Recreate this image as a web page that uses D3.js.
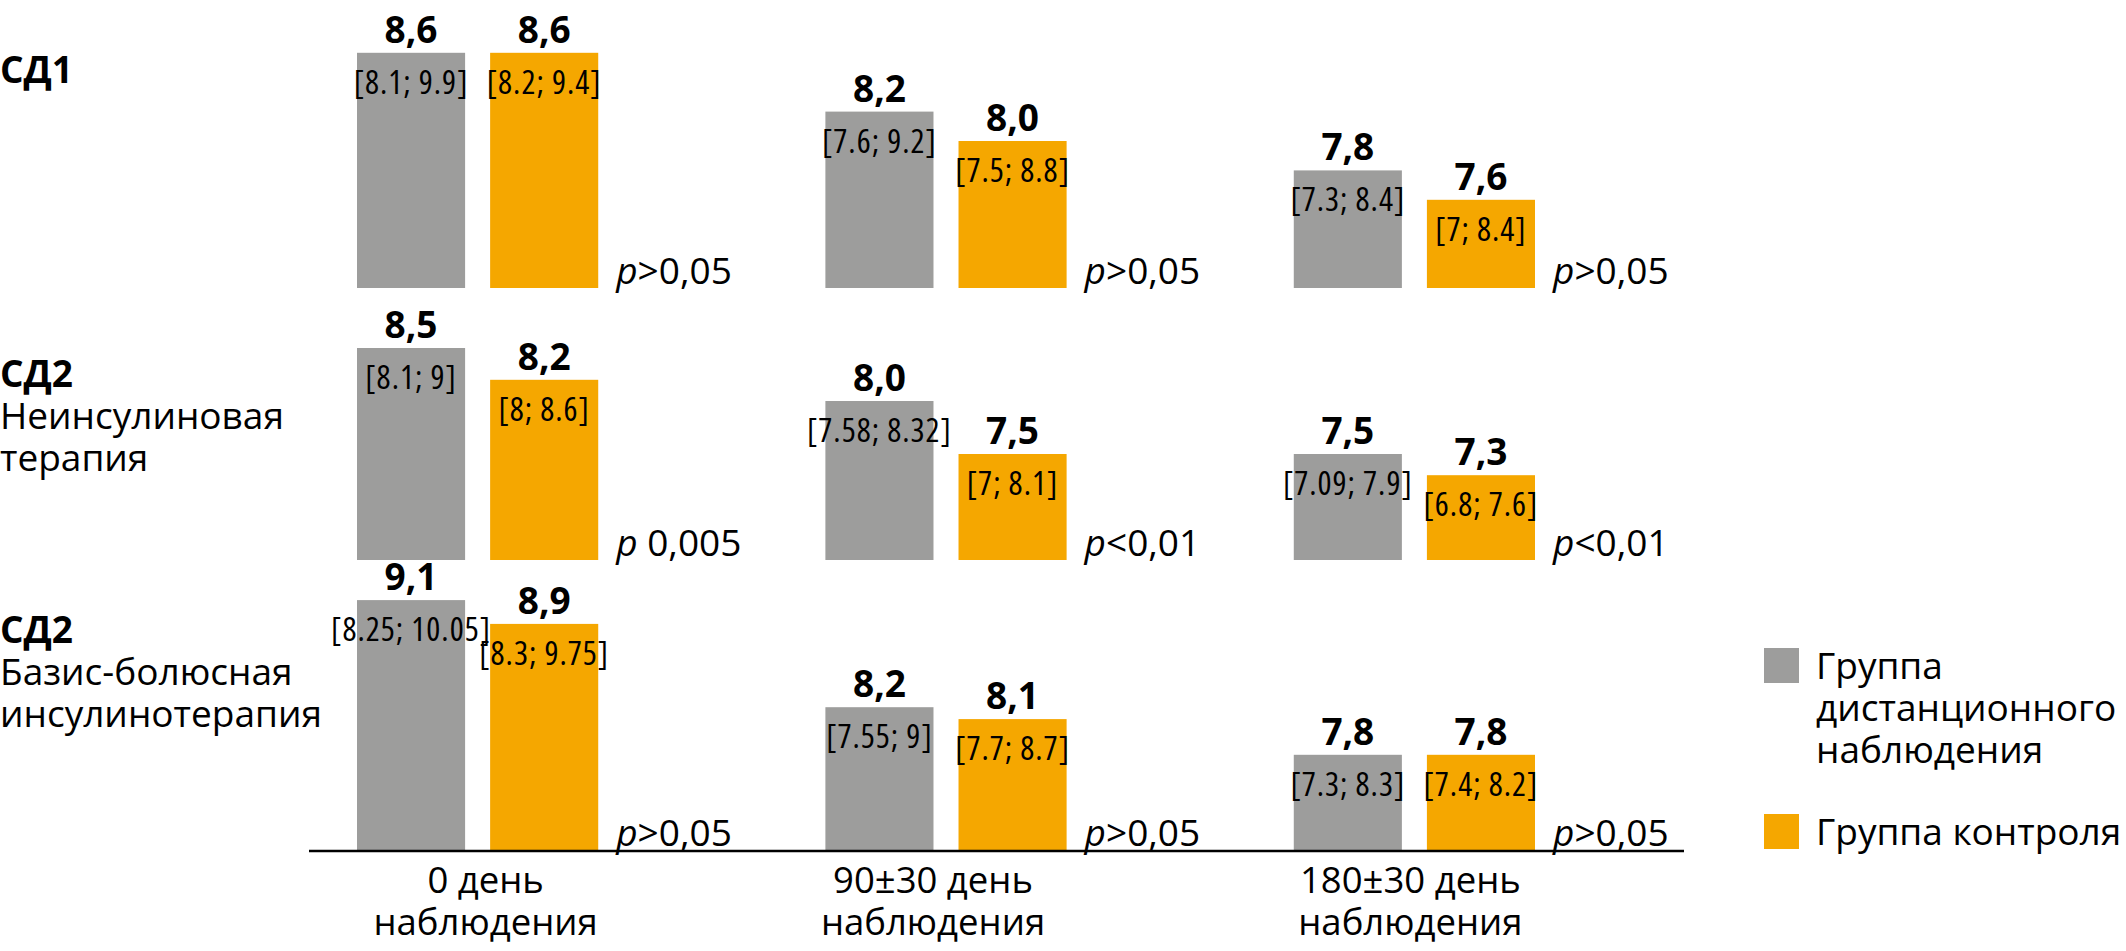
<!DOCTYPE html>
<html>
<head>
<meta charset="utf-8">
<script src="https://cdn.jsdelivr.net/npm/d3@7"></script>
<style>
  body { margin: 0; background: #fff; }
  svg { display: block; }
  .val { font-family: "Open Sans", sans-serif; font-weight: 700; font-size: 37px; }
  .iqr { font-family: "Open Sans", sans-serif; font-stretch: condensed; font-size: 33px; letter-spacing: 1px; }
  .pval { font-family: "Open Sans", sans-serif; font-size: 37px; }
  .rowlab { font-family: "Open Sans", sans-serif; font-size: 37px; }
  .axlab { font-family: "Open Sans", sans-serif; font-size: 36.5px; }
  .leg { font-family: "Open Sans", sans-serif; font-size: 37px; }
</style>
</head>
<body>
<svg id="chart"></svg>
<script>
// --- data ---
const days = ["0", "90±30", "180±30"];
const dayLabels = [["0 день", "наблюдения"], ["90±30 день", "наблюдения"], ["180±30 день", "наблюдения"]];
const groups = ["remote", "control"];
const groupNames = [["Группа", "дистанционного", "наблюдения"], ["Группа контроля"]];
const groupColors = ["#9d9d9c", "#f5a700"];

const rowTitles = ["СД1", "СД2", "СД2"];
const rowSubtitles = [[], ["Неинсулиновая", "терапия"], ["Базис-болюсная", "инсулинотерапия"]];

const remoteMedian = [[8.6, 8.2, 7.8], [8.5, 8.0, 7.5], [9.1, 8.2, 7.8]];
const controlMedian = [[8.6, 8.0, 7.6], [8.2, 7.5, 7.3], [8.9, 8.1, 7.8]];
const remoteIQR = [
  ["[8.1; 9.9]", "[7.6; 9.2]", "[7.3; 8.4]"],
  ["[8.1; 9]", "[7.58; 8.32]", "[7.09; 7.9]"],
  ["[8.25; 10.05]", "[7.55; 9]", "[7.3; 8.3]"]
];
const controlIQR = [
  ["[8.2; 9.4]", "[7.5; 8.8]", "[7; 8.4]"],
  ["[8; 8.6]", "[7; 8.1]", "[6.8; 7.6]"],
  ["[8.3; 9.75]", "[7.7; 8.7]", "[7.4; 8.2]"]
];
const pValues = [
  [">0,05", ">0,05", ">0,05"],
  [" 0,005", "<0,01", "<0,01"],
  [">0,05", ">0,05", ">0,05"]
];
// each panel has its own value axis (not starting at zero)
const rowDomains = [[7, 9], [6.5, 9], [7, 9.5]];

// --- layout ---
const W = 2126, H = 951;
const rowBase = [288, 560, 850];
const rowPx = [147, 106, 119]; // px per unit
const dayLabelDx = [8, -13, -4];

const svg = d3.select("#chart").attr("width", W).attr("height", H);

const x = d3.scaleBand().domain(days).range([357, 1535]).paddingInner(0.485).paddingOuter(0);
const xs = d3.scaleBand().domain(groups).range([0, x.bandwidth()]).paddingInner(0.188);
const fmt = v => d3.format(".1f")(v).replace(".", ",");

rowTitles.forEach((title, r) => {
  const dom = rowDomains[r];
  const y = d3.scaleLinear().domain(dom)
    .range([rowBase[r], rowBase[r] - rowPx[r] * (dom[1] - dom[0])]);

  const rows = days.map((d, i) => [
    { day: d, g: "remote", v: remoteMedian[r][i], iqr: remoteIQR[r][i] },
    { day: d, g: "control", v: controlMedian[r][i], iqr: controlIQR[r][i] }
  ]).flat();

  const g = svg.append("g");

  g.selectAll("rect.bar").data(rows).join("rect")
    .attr("class", "bar")
    .attr("x", d => x(d.day) + xs(d.g))
    .attr("width", xs.bandwidth())
    .attr("y", d => y(d.v))
    .attr("height", d => y(dom[0]) - y(d.v))
    .attr("fill", d => groupColors[groups.indexOf(d.g)]);

  g.selectAll("text.val").data(rows).join("text")
    .attr("class", "val")
    .attr("x", d => x(d.day) + xs(d.g) + xs.bandwidth() / 2)
    .attr("y", d => y(d.v) - 10)
    .attr("text-anchor", "middle")
    .text(d => fmt(d.v));

  g.selectAll("text.iqr").data(rows).join("text")
    .attr("class", "iqr")
    .attr("x", d => x(d.day) + xs(d.g) + xs.bandwidth() / 2)
    .attr("y", d => y(d.v) + 41)
    .attr("text-anchor", "middle")
    .text(d => d.iqr);

  const p = g.selectAll("text.pval").data(days).join("text")
    .attr("class", "pval")
    .attr("x", d => x(d) + x.bandwidth() + 18)
    .attr("y", rowBase[r] - 4);
  p.append("tspan").attr("font-style", "italic").text("p");
  p.append("tspan").text((d, i) => pValues[r][i]);

  // row titles
  const lab = g.append("text").attr("class", "rowlab").attr("x", 0);
  const titleY = r === 0 ? 83 : rowBase[r] - (r === 1 ? 173 : 207);
  lab.append("tspan").attr("x", 0).attr("y", titleY).attr("font-weight", 700).text(title);
  rowSubtitles[r].forEach((s, k) => {
    lab.append("tspan").attr("x", 0).attr("y", titleY + 42 * (k + 1)).text(s);
  });
});

// baseline axis
svg.append("line")
  .attr("x1", 309).attr("x2", 1684)
  .attr("y1", rowBase[2] + 1).attr("y2", rowBase[2] + 1)
  .attr("stroke", "#000").attr("stroke-width", 2.5);

// day labels
svg.selectAll("text.axlab").data(days).join("text")
  .attr("class", "axlab")
  .attr("text-anchor", "middle")
  .each(function (d, i) {
    const t = d3.select(this);
    dayLabels[i].forEach((s, k) => {
      t.append("tspan").attr("x", x(d) + x.bandwidth() / 2 + dayLabelDx[i]).attr("y", 893 + 42 * k).text(s);
    });
  });

// legend
const legY = [648, 814];
const leg = svg.selectAll("g.leg").data(groups).join("g")
  .attr("class", "leg")
  .attr("transform", (d, i) => `translate(1764,${legY[i]})`);
leg.append("rect").attr("width", 35).attr("height", 35)
  .attr("fill", (d, i) => groupColors[i]);
leg.append("text").attr("class", "leg")
  .each(function (d, i) {
    const t = d3.select(this);
    groupNames[i].forEach((s, k) => {
      t.append("tspan").attr("x", 52).attr("y", 31 + 42 * k).text(s);
    });
  });
</script>
</body>
</html>
